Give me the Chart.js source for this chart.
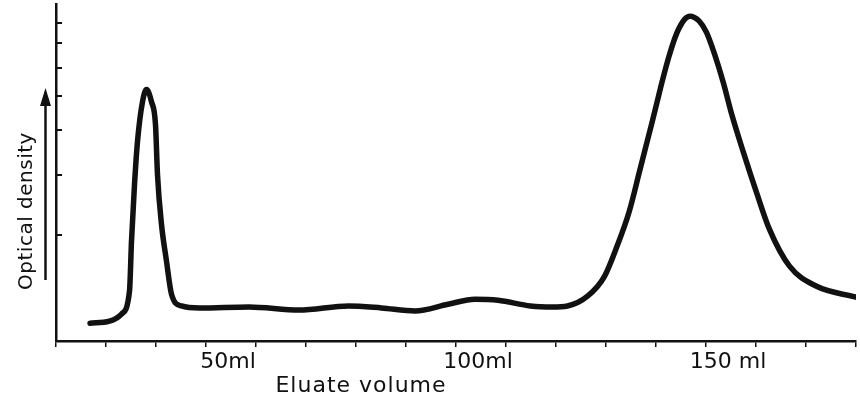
<!DOCTYPE html>
<html lang="en">
<head>
<meta charset="UTF-8" />
<title>Optical density vs eluate volume</title>
<script src="https://cdn.jsdelivr.net/npm/chart.js"></script>
<style>
  html, body { margin: 0; padding: 0; background: #fff; }
  #wrap { width: 860px; height: 396px; }
</style>
</head>
<body>
<div id="wrap"><canvas id="elution"></canvas></div>
<script>
  // eluate volume (ml) and optical density (arbitrary units, 0-100)
  const volumeMl = [26.8, 30.7, 33.1, 34.7, 35.1, 35.7, 36.3, 37.3, 38.1, 39.1, 39.9, 40.3, 41.1, 42.1, 43.1,
    45.1, 48.7, 58.6, 68.6, 78.5, 85.1, 91.8, 98.4, 103.8, 108.4, 114.9, 119.3,
    122.3, 126.3, 129.7, 132.2, 134.6, 136.8, 138.2, 139.2, 140.2, 141.2, 142.6, 144.2, 145.8, 146.8,
    148.6, 150.1, 151.7, 153.5, 155.1, 157.5, 160.1, 162.7, 166.7, 172.0, 180.0];
  const opticalDensity = [5.3, 5.9, 8.0, 14.8, 29.6, 46.4, 59.2, 71.0, 74.6, 71.0, 64.2, 49.4, 34.6, 23.7, 13.9,
    10.4, 9.8, 10.1, 9.2, 10.4, 9.8, 8.9, 10.9, 12.4, 12.1, 10.4, 10.1,
    10.4, 13.3, 19.2, 28.1, 38.2, 50.9, 59.0, 64.8, 70.8, 76.8, 84.5, 91.5, 95.6, 96.4,
    95.0, 91.6, 85.2, 76.5, 67.5, 55.9, 44.1, 33.1, 22.2, 16.3, 13.0];

  // axis marks
  const labelledVolumes = [50, 100, 150];
  const volumeLabels = ['50ml', '100ml', '150 ml'];
  const yTickValues = [94.4, 88.5, 81.1, 72.8, 62.7, 49.4, 31.4];

  const ink = '#111';

  // inside ticks on the y axis, the arrow and both axis titles
  const axisDecor = {
    id: 'axisDecor',
    afterDraw(chart) {
      const ctx = chart.ctx;
      const yScale = chart.scales.y;
      const left = chart.chartArea.left;
      ctx.save();
      ctx.strokeStyle = ink;
      ctx.fillStyle = ink;
      ctx.lineWidth = 2;
      yTickValues.forEach(v => {
        const py = Math.round(yScale.getPixelForValue(v));
        ctx.beginPath();
        ctx.moveTo(left, py);
        ctx.lineTo(left + 6, py);
        ctx.stroke();
      });

      // arrow pointing up
      ctx.lineWidth = 2.5;
      ctx.beginPath();
      ctx.moveTo(45.5, 280);
      ctx.lineTo(45.5, 102);
      ctx.stroke();
      ctx.beginPath();
      ctx.moveTo(45.5, 88);
      ctx.lineTo(51, 106);
      ctx.lineTo(40, 106);
      ctx.closePath();
      ctx.fill();

      ctx.textAlign = 'center';
      ctx.textBaseline = 'alphabetic';
      ctx.font = '22px "DejaVu Sans"';
      ctx.letterSpacing = '1px';
      ctx.fillText('Eluate volume', 361, 392);

      ctx.translate(32, 211);
      ctx.rotate(-Math.PI / 2);
      ctx.font = '20px "DejaVu Sans"';
      ctx.letterSpacing = '0.5px';
      ctx.fillText('Optical density', 0, 0);
      ctx.restore();
    }
  };

  new Chart(document.getElementById('elution'), {
    type: 'line',
    data: {
      datasets: [{
        data: volumeMl.map((v, i) => ({ x: v, y: opticalDensity[i] })),
        borderColor: ink,
        borderWidth: 5.5,
        borderCapStyle: 'round',
        borderJoinStyle: 'round',
        pointRadius: 0,
        cubicInterpolationMode: 'monotone',
        fill: false
      }]
    },
    options: {
      responsive: true,
      maintainAspectRatio: false,
      animation: false,
      layout: { padding: { left: 56, top: 4, right: 0, bottom: 19 } },
      plugins: { legend: { display: false }, tooltip: { enabled: false } },
      scales: {
        x: {
          type: 'linear',
          min: 20,
          max: 180,
          border: { display: true, color: ink, width: 2.5 },
          grid: { drawOnChartArea: false, drawTicks: true, tickLength: 6, color: ink, lineWidth: 1.5 },
          ticks: {
            stepSize: 10,
            autoSkip: false,
            maxRotation: 0,
            padding: 4,
            labelOffset: 22,
            color: ink,
            font: { family: '"DejaVu Sans"', size: 22, lineHeight: 1 },
            callback: v => {
              const k = labelledVolumes.indexOf(v);
              return k < 0 ? '' : volumeLabels[k];
            }
          }
        },
        y: {
          min: 0,
          max: 100,
          border: { display: true, color: ink, width: 2.5 },
          grid: { drawOnChartArea: false, drawTicks: false },
          ticks: { display: false }
        }
      }
    },
    plugins: [axisDecor]
  });
</script>
</body>
</html>
